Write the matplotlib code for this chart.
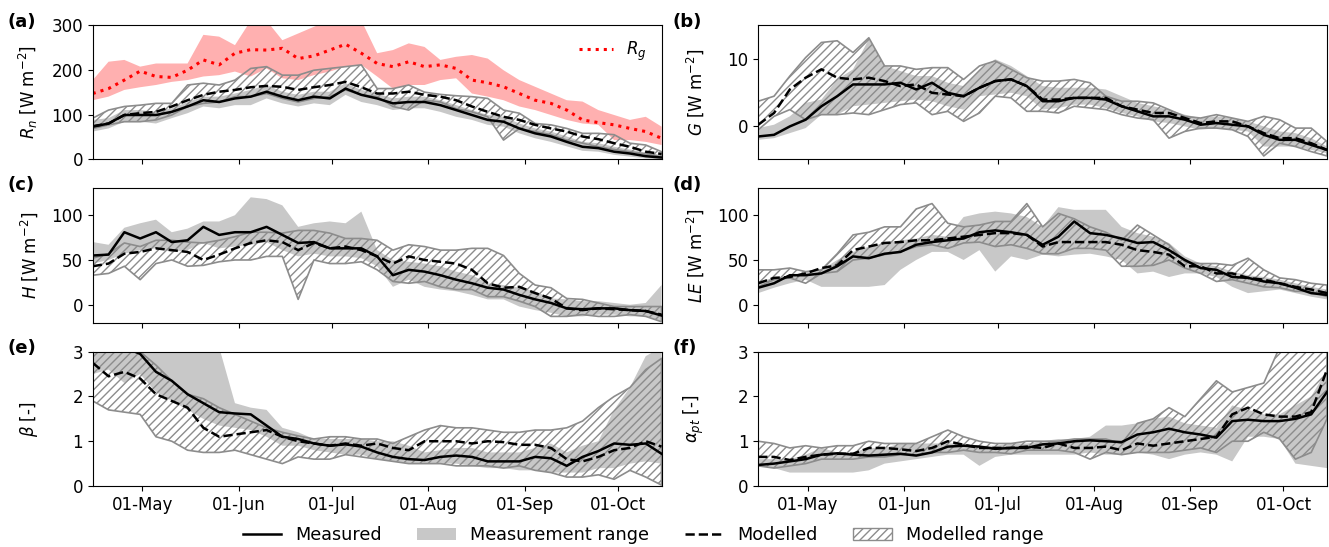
import numpy as np
import pandas as pd
import matplotlib
matplotlib.use('Agg')
import matplotlib.pyplot as plt
import matplotlib.dates as mdates
from matplotlib.lines import Line2D
from matplotlib.patches import Patch

DATES = pd.date_range('2019-04-15', '2019-10-15', periods=37)

# (a) net radiation + global radiation
rnMeas = [73, 80, 99, 99, 99, 106, 118, 132, 128, 136, 140, 151, 140, 132, 140, 136, 158, 144, 136, 125, 128, 128, 121, 110, 99, 88, 84, 69, 58, 51, 39, 28, 25, 17, 13, 7, 4]
rnMeasLo = [62, 69, 84, 84, 80, 92, 103, 118, 114, 121, 121, 136, 125, 118, 125, 121, 144, 128, 121, 110, 114, 114, 106, 95, 88, 77, 73, 58, 47, 39, 29, 19, 17, 10, 6, 2, 0]
rnMeasHi = [88, 92, 110, 110, 106, 114, 128, 140, 140, 147, 155, 166, 151, 144, 151, 151, 170, 155, 147, 136, 140, 140, 132, 121, 110, 99, 95, 80, 69, 62, 51, 39, 36, 28, 22, 15, 10]
rnMod = [74, 80, 99, 103, 106, 118, 132, 144, 151, 155, 161, 164, 162, 155, 161, 166, 173, 161, 147, 147, 151, 144, 140, 132, 118, 106, 95, 88, 77, 69, 62, 51, 45, 36, 28, 17, 12]
rnModLo = [69, 77, 84, 84, 88, 99, 118, 125, 128, 140, 140, 147, 136, 128, 136, 140, 155, 144, 140, 118, 110, 132, 128, 113, 106, 95, 43, 69, 62, 55, 43, 36, 28, 22, 17, 12, 6]
rnModHi = [92, 110, 118, 121, 125, 125, 166, 170, 166, 177, 203, 207, 188, 188, 199, 203, 207, 211, 158, 158, 166, 150, 145, 142, 140, 136, 110, 103, 80, 77, 69, 58, 58, 55, 36, 32, 17]
rg = [147, 158, 177, 197, 185, 183, 199, 222, 211, 237, 245, 244, 248, 225, 231, 244, 257, 237, 214, 207, 218, 207, 211, 203, 177, 171, 162, 147, 132, 125, 110, 88, 82, 77, 69, 62, 47]
rgLo = [132, 140, 155, 161, 166, 173, 177, 185, 188, 196, 185, 203, 181, 177, 188, 196, 207, 211, 185, 158, 166, 166, 177, 181, 147, 140, 132, 118, 110, 99, 88, 80, 77, 43, 43, 39, 32]
rgHi = [177, 218, 222, 207, 214, 214, 214, 278, 274, 255, 310, 310, 266, 281, 296, 310, 310, 310, 237, 244, 259, 251, 222, 229, 233, 225, 199, 177, 162, 147, 132, 129, 110, 99, 88, 95, 73]

# (b) ground heat flux
gMeas = [-1.6, -1.35, -0.1, 0.9, 2.9, 4.4, 6.15, 6.15, 6.15, 6.4, 5.4, 6.4, 4.9, 4.4, 5.65, 6.65, 6.9, 5.9, 3.65, 3.65, 4.15, 4.15, 3.9, 2.9, 2.15, 1.4, 1.4, 0.9, 0.15, 0.4, 0.15, -0.1, -1.35, -2.1, -2.1, -2.85, -3.6]
gMeasLo = [-2.1, -1.85, -1.1, -0.35, 1.65, 1.65, 2.9, 3.15, 3.4, 3.65, 3.9, 3.65, 2.9, 2.4, 4.4, 4.65, 4.9, 4.4, 2.4, 2.65, 3.15, 3.15, 2.65, 1.9, 1.4, 0.65, 0.4, -0.1, -0.6, -0.35, -0.6, -0.85, -3.1, -3.1, -3.1, -3.6, -4.1]
gMeasHi = [-0.35, 0.15, 1.4, 3.4, 3.9, 6.9, 8.4, 12.9, 8.9, 8.15, 7.4, 7.4, 6.4, 5.9, 8.4, 9.9, 8.9, 7.4, 5.9, 5.65, 5.65, 5.65, 5.4, 4.4, 3.4, 2.9, 2.4, 1.65, 1.15, 1.4, 1.15, 0.65, -0.1, -0.85, -1.1, -1.85, -3.1]
gMod = [0.15, 1.9, 5.4, 7.15, 8.4, 7.15, 6.9, 7.15, 6.65, 5.9, 6.15, 4.9, 4.65, 4.4, 5.65, 6.65, 6.9, 5.9, 3.9, 3.9, 4.15, 4.15, 4.15, 2.9, 2.4, 1.9, 1.9, 1.15, 0.4, 0.65, 0.65, -0.1, -1.1, -1.85, -1.85, -2.6, -3.6]
gModLo = [-0.6, 1.4, 2.4, 0.9, 1.65, 1.65, 1.9, 1.65, 2.4, 3.15, 3.4, 1.65, 2.15, 0.65, 1.9, 4.4, 4.15, 2.15, 2.15, 1.9, 2.9, 2.65, 2.4, 1.65, 1.15, 0.9, -1.85, -0.85, -0.35, -0.35, -0.6, -1.6, -4.5, -2.6, -3.1, -3.85, -4.5]
gModHi = [3.65, 4.4, 7.4, 10.15, 12.4, 12.65, 10.9, 13.1, 8.9, 8.9, 8.4, 8.65, 8.65, 6.9, 8.9, 9.65, 8.4, 7.15, 6.65, 6.65, 6.9, 6.4, 4.4, 3.65, 3.65, 3.4, 2.4, 1.4, 1.15, 1.65, 1.15, 0.65, 1.4, 0.9, -0.35, -0.35, -2.35]

# (c) sensible heat flux
hMeas = [55, 56, 81, 74, 81, 70, 72, 87, 78, 81, 81, 87, 78, 69, 70, 63, 63, 63, 54, 33, 39, 37, 33, 28, 24, 19, 17, 11, 6, 2, -4, -5, -4, -4, -6, -7, -12]
hMeasLo = [46, 50, 57, 61, 63, 59, 61, 69, 63, 65, 67, 70, 61, 54, 57, 54, 54, 52, 43, 20, 28, 20, 17, 15, 11, 6, 6, -2, -6, -9, -13, -13, -11, -11, -13, -13, -19]
hMeasHi = [70, 67, 86, 91, 95, 81, 85, 93, 93, 100, 120, 118, 111, 87, 91, 93, 91, 104, 61, 50, 48, 46, 43, 37, 33, 24, 22, 19, 15, 7, 6, 4, 4, 2, 0, 2, 22]
hMod = [43, 46, 57, 59, 63, 61, 59, 50, 56, 63, 69, 72, 70, 61, 69, 63, 65, 61, 54, 46, 54, 50, 48, 46, 39, 24, 19, 20, 13, 7, -4, -6, -4, -5, -6, -7, -11]
hModLo = [33, 35, 43, 28, 46, 50, 43, 44, 48, 50, 50, 54, 54, 6, 50, 46, 46, 48, 39, 26, 24, 26, 20, 17, 17, 9, 9, 4, -2, -13, -13, -11, -13, -13, -11, -13, -19]
hModHi = [52, 57, 69, 65, 72, 72, 70, 69, 72, 76, 81, 81, 80, 83, 83, 80, 74, 74, 72, 61, 67, 65, 61, 61, 63, 63, 55, 35, 22, 19, 7, 6, 2, -2, -2, -2, -2]

# (d) latent heat flux
leMeas = [19, 24, 33, 33, 35, 43, 54, 52, 57, 59, 67, 70, 72, 74, 81, 83, 81, 78, 67, 76, 93, 80, 78, 74, 69, 70, 61, 50, 41, 39, 31, 30, 26, 24, 19, 13, 11]
leMeasLo = [13, 19, 24, 28, 20, 20, 20, 20, 22, 39, 50, 59, 59, 50, 61, 37, 54, 50, 56, 54, 56, 57, 54, 50, 35, 37, 31, 35, 35, 31, 20, 13, 15, 17, 13, 9, 6]
leMeasHi = [26, 30, 31, 37, 39, 50, 59, 65, 69, 72, 74, 78, 76, 98, 102, 104, 102, 98, 87, 109, 106, 106, 106, 87, 80, 76, 69, 54, 46, 43, 37, 33, 31, 28, 24, 20, 17]
leMod = [24, 30, 31, 35, 41, 44, 61, 65, 69, 70, 72, 72, 74, 76, 78, 80, 80, 78, 65, 70, 70, 70, 70, 67, 61, 59, 56, 43, 43, 35, 35, 30, 28, 24, 20, 17, 13]
leModLo = [20, 28, 30, 24, 35, 37, 50, 52, 56, 59, 65, 67, 63, 69, 70, 65, 67, 63, 57, 57, 63, 63, 61, 43, 43, 44, 50, 41, 35, 26, 28, 24, 20, 19, 15, 15, 9]
leModHi = [39, 39, 41, 37, 39, 57, 78, 81, 87, 87, 107, 113, 91, 87, 89, 93, 93, 113, 87, 102, 96, 87, 81, 72, 89, 78, 67, 48, 46, 46, 44, 52, 39, 30, 28, 24, 22]

# (e) Bowen ratio
betaMeas = [3.3, 3.2, 3.1, 2.95, 2.55, 2.35, 2.05, 1.85, 1.65, 1.62, 1.6, 1.35, 1.1, 1.05, 0.95, 0.9, 0.93, 0.88, 0.75, 0.65, 0.6, 0.58, 0.65, 0.68, 0.65, 0.55, 0.55, 0.55, 0.65, 0.62, 0.45, 0.65, 0.78, 0.95, 0.92, 0.95, 0.72]
betaMeasLo = [2.5, 2.6, 2.3, 2.5, 2.1, 1.9, 1.7, 1.5, 1.35, 1.3, 1.25, 1.1, 0.9, 0.9, 0.8, 0.75, 0.7, 0.7, 0.6, 0.55, 0.5, 0.5, 0.5, 0.5, 0.45, 0.4, 0.4, 0.35, 0.35, 0.3, 0.3, 0.3, 0.4, 0.4, 0.5, 0.55, 0.5]
betaMeasHi = [3.1, 3.1, 3.1, 3.1, 3.1, 3.1, 3.1, 3.1, 3.1, 1.85, 1.75, 1.7, 1.3, 1.2, 1.05, 1.05, 1.05, 1.05, 1.0, 1.0, 0.9, 0.75, 0.8, 0.85, 0.85, 0.75, 0.75, 0.75, 0.85, 0.95, 0.75, 0.9, 1.0, 1.7, 2.2, 2.9, 3.1]
betaMod = [2.75, 2.45, 2.55, 2.4, 2.05, 1.9, 1.75, 1.3, 1.1, 1.15, 1.2, 1.25, 1.1, 1.0, 0.95, 0.9, 0.95, 0.9, 0.95, 0.85, 0.8, 1.0, 1.0, 1.0, 0.95, 1.0, 0.98, 0.92, 0.92, 0.85, 0.6, 0.55, 0.65, 0.8, 0.85, 1.0, 0.88]
betaModLo = [1.9, 1.7, 1.65, 1.6, 1.1, 1.0, 0.8, 0.75, 0.75, 0.8, 0.7, 0.6, 0.5, 0.65, 0.6, 0.6, 0.7, 0.65, 0.6, 0.55, 0.5, 0.5, 0.5, 0.45, 0.45, 0.45, 0.4, 0.45, 0.35, 0.3, 0.2, 0.2, 0.25, 0.15, 0.35, 0.2, 0.02]
betaModHi = [3.1, 3.1, 3.1, 3.0, 2.7, 2.35, 2.05, 1.95, 1.75, 1.6, 1.45, 1.3, 1.2, 1.12, 1.05, 1.1, 1.1, 1.05, 1.05, 0.95, 1.1, 1.25, 1.35, 1.3, 1.3, 1.25, 1.2, 1.2, 1.25, 1.25, 1.3, 1.45, 1.75, 2.0, 2.2, 2.6, 2.85]

# (f) Priestley-Taylor alpha
alphaMeas = [0.47, 0.5, 0.55, 0.6, 0.7, 0.73, 0.7, 0.68, 0.7, 0.72, 0.68, 0.75, 0.88, 0.9, 0.88, 0.83, 0.85, 0.85, 0.93, 0.95, 1.0, 1.02, 1.0, 0.98, 1.15, 1.2, 1.28, 1.2, 1.15, 1.08, 1.45, 1.48, 1.45, 1.45, 1.5, 1.6, 2.1]
alphaMeasLo = [0.45, 0.4, 0.3, 0.3, 0.3, 0.3, 0.3, 0.35, 0.5, 0.55, 0.6, 0.65, 0.7, 0.7, 0.45, 0.65, 0.7, 0.7, 0.7, 0.7, 0.7, 0.75, 0.7, 0.7, 0.75, 0.7, 0.6, 0.7, 0.75, 0.7, 0.55, 1.1, 1.1, 1.05, 0.5, 0.45, 0.4]
alphaMeasHi = [0.6, 0.6, 0.6, 0.7, 0.85, 0.75, 0.75, 0.85, 0.85, 0.95, 0.95, 0.95, 0.95, 0.95, 0.9, 0.9, 0.95, 0.95, 1.0, 1.05, 1.05, 1.1, 1.35, 1.35, 1.4, 1.5, 1.55, 1.4, 1.35, 1.3, 1.8, 1.7, 1.6, 1.6, 1.8, 2.0, 2.6]
alphaMod = [0.65, 0.65, 0.58, 0.65, 0.7, 0.72, 0.72, 0.85, 0.85, 0.82, 0.78, 0.85, 1.0, 0.92, 0.85, 0.85, 0.85, 0.88, 0.85, 0.95, 0.85, 0.85, 0.88, 0.8, 0.95, 0.9, 0.95, 1.0, 1.05, 1.1, 1.6, 1.75, 1.6, 1.55, 1.55, 1.65, 2.6]
alphaModLo = [0.45, 0.4, 0.45, 0.5, 0.6, 0.6, 0.6, 0.65, 0.65, 0.7, 0.7, 0.75, 0.75, 0.8, 0.75, 0.75, 0.72, 0.8, 0.8, 0.8, 0.75, 0.6, 0.75, 0.7, 0.75, 0.75, 0.75, 0.8, 0.85, 0.75, 1.0, 1.0, 1.2, 1.05, 0.6, 0.75, 1.5]
alphaModHi = [1.0, 0.95, 0.85, 0.9, 0.85, 0.9, 0.9, 1.0, 0.95, 0.95, 0.95, 1.1, 1.25, 1.1, 1.0, 0.95, 0.95, 1.0, 1.0, 1.0, 1.05, 1.05, 1.05, 0.95, 1.4, 1.5, 1.75, 1.55, 1.95, 2.35, 2.1, 2.2, 2.3, 3.1, 3.1, 3.1, 3.1]

GREY_FILL = '#c8c8c8'
HATCH_EDGE = '#8c8c8c'
RED_FILL = '#ffb0b0'
FS = 12

plt.rcParams['font.size'] = FS
plt.rcParams['hatch.linewidth'] = 1.0


def plotPanel(ax, meas, measLo, measHi, mod, modLo, modHi, ylabel, ylim, yticks, tag):
    ax.fill_between(DATES, measLo, measHi, facecolor=GREY_FILL, edgecolor='none', linewidth=0)
    ax.fill_between(DATES, modLo, modHi, facecolor='none', edgecolor=HATCH_EDGE, hatch='////', linewidth=1.2)
    ax.plot(DATES, meas, color='black', linewidth=1.8)
    ax.plot(DATES, mod, color='black', linewidth=1.8, linestyle='--')
    ax.set_ylim(ylim)
    ax.set_yticks(yticks)
    ax.set_ylabel(ylabel, labelpad=8)
    ax.text(-0.15, 1.025, tag, transform=ax.transAxes, fontsize=13, fontweight='bold',
            ha='left', va='center')


fig, axes = plt.subplots(3, 2, sharex=True, figsize=(13.29, 5.47), dpi=100)
fig.subplots_adjust(left=0.0698, right=0.9985, top=0.9543, bottom=0.1115, wspace=0.17, hspace=0.216)

axA = axes[0, 0]
axA.fill_between(DATES, rgLo, rgHi, facecolor=RED_FILL, edgecolor='none', linewidth=0)
axA.plot(DATES, rg, color='red', linestyle=':', linewidth=2.2, label='$R_g$')
axA.legend(loc='upper right', frameon=False, fontsize=FS)
plotPanel(axA, rnMeas, rnMeasLo, rnMeasHi, rnMod, rnModLo, rnModHi,
          '$R_n$ [W m$^{-2}$]', (0, 300), [0, 100, 200, 300], '(a)')
plotPanel(axes[0, 1], gMeas, gMeasLo, gMeasHi, gMod, gModLo, gModHi,
          '$G$ [W m$^{-2}$]', (-5, 15), [0, 10], '(b)')
plotPanel(axes[1, 0], hMeas, hMeasLo, hMeasHi, hMod, hModLo, hModHi,
          '$H$ [W m$^{-2}$]', (-20, 130), [0, 50, 100], '(c)')
plotPanel(axes[1, 1], leMeas, leMeasLo, leMeasHi, leMod, leModLo, leModHi,
          '$LE$ [W m$^{-2}$]', (-20, 130), [0, 50, 100], '(d)')
plotPanel(axes[2, 0], betaMeas, betaMeasLo, betaMeasHi, betaMod, betaModLo, betaModHi,
          r'$\beta$ [-]', (0, 3), [0, 1, 2, 3], '(e)')
plotPanel(axes[2, 1], alphaMeas, alphaMeasLo, alphaMeasHi, alphaMod, alphaModLo, alphaModHi,
          r'$\alpha_{pt}$ [-]', (0, 3), [0, 1, 2, 3], '(f)')

for ax in axes.flat:
    ax.set_xlim(DATES[0], DATES[-1])
    ax.xaxis.set_major_locator(mdates.MonthLocator(bymonth=range(5, 11)))
    ax.xaxis.set_major_formatter(mdates.DateFormatter('%d-%b'))
    ax.tick_params(labelsize=FS)

fig.align_ylabels(axes[:, 0])
fig.align_ylabels(axes[:, 1])

handles = [
    Line2D([], [], color='black', linewidth=1.8),
    Patch(facecolor=GREY_FILL, edgecolor='none'),
    Line2D([], [], color='black', linewidth=1.8, linestyle='--'),
    Patch(facecolor='white', edgecolor=HATCH_EDGE, hatch='////'),
]
labels = ['Measured', 'Measurement range', 'Modelled', 'Modelled range']
fig.legend(handles, labels, loc='lower center', bbox_to_anchor=(0.484, -0.024), ncol=4,
           frameon=False, fontsize=12.7, columnspacing=2.0, handlelength=2.2, handletextpad=0.8)

fig.savefig('out.png', dpi=100)
